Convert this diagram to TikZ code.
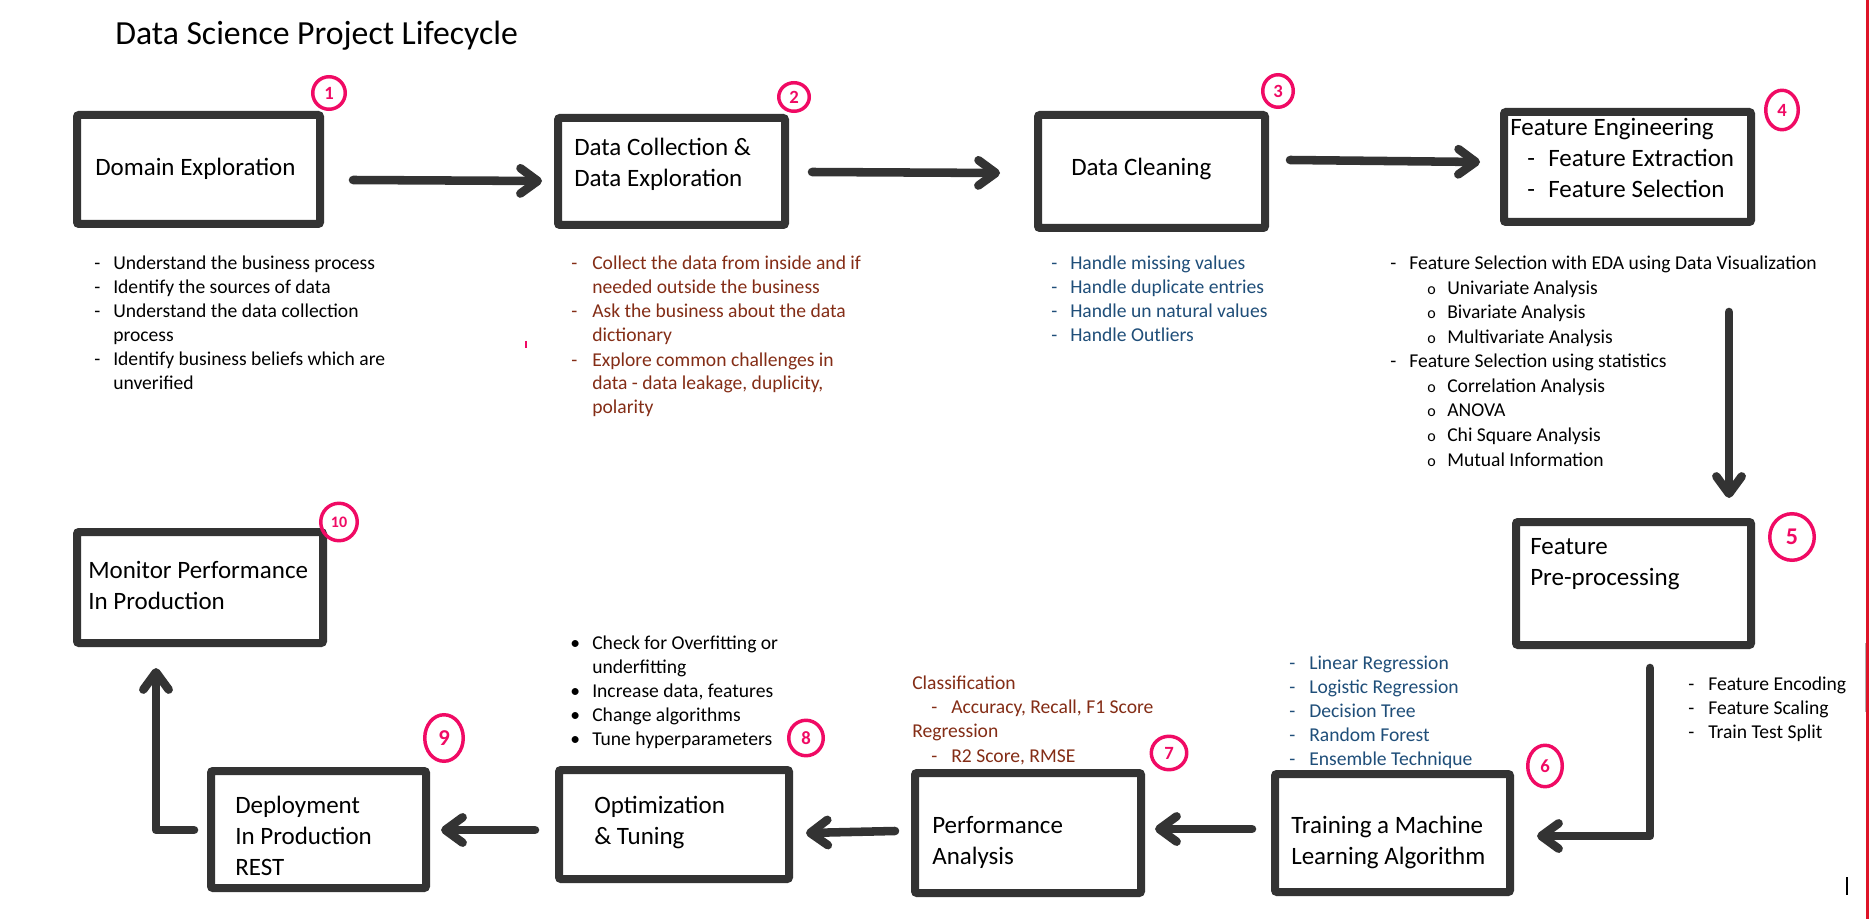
\documentclass[tikz,border=0pt]{standalone}
\usepackage{fontspec}
\setmainfont{Carlito}
\usetikzlibrary{arrows.meta,calc,shapes.geometric}
\newdimen\pxu \pxu=0.75pt
\newcommand\lead[2]{\makebox[#1\pxu][l]{#2}}
\newcommand\ind[1]{\hspace*{#1\pxu}}
\newcommand\ringbul{{\fontsize{12pt}{12pt}\selectfont o}}
\definecolor{boxgray}{RGB}{51,51,51}
\definecolor{badgepink}{RGB}{240,10,100}
\definecolor{listred}{RGB}{132,45,22}
\definecolor{listblue}{RGB}{31,78,121}
\definecolor{edgered}{RGB}{222,20,40}
\tikzset{
  stepbox/.style={draw=boxgray, line width=6pt, rounded corners=1.5pt, rectangle, inner sep=0pt, fill=white},
  flow/.style={draw=boxgray, line width=6.4pt, line cap=round, line join=round,
     -{Straight Barb[round, length=13pt, width=19pt]}},
  badge/.style={draw=badgepink, line width=2.6pt, ellipse, inner sep=0pt, text=badgepink,
     font=\fontsize{14pt}{14pt}\selectfont\bfseries},
  boxtxt/.style={anchor=base west, inner sep=0pt, align=left, font=\fontsize{18.75pt}{23.25pt}\selectfont},
  listtxt/.style={anchor=base west, inner sep=0pt, align=left, font=\fontsize{14.7pt}{18pt}\selectfont},
}
\begin{document}
\begin{tikzpicture}[x=\pxu, y=-\pxu]
\useasboundingbox (0,0) rectangle (1869,919);
\fill[white] (0,0) rectangle (1869,919);

% title
\node[anchor=base west, inner sep=0pt, font=\fontsize{25.3pt}{30pt}\selectfont] (title) at (115,45) {Data Science Project Lifecycle};

% boxes
\node[stepbox, minimum width=182.25pt, minimum height=81.75pt] (b1) at (198.5,169.5) {};
\node[stepbox, minimum width=170.25pt, minimum height=80.25pt] (b2) at (671.5,171.5) {};
\node[stepbox, minimum width=170.25pt, minimum height=84.75pt] (b3) at (1151.5,171.5) {};
\node[stepbox, minimum width=185.25pt, minimum height=82.5pt] (b4) at (1627.5,167) {};
\node[stepbox, minimum width=176.25pt, minimum height=92.25pt] (b5) at (1633.5,583.5) {};
\node[stepbox, minimum width=176.25pt, minimum height=88.5pt] (b6) at (1392.5,833) {};
\node[stepbox, minimum width=169.5pt, minimum height=90pt] (b7) at (1028,833) {};
\node[stepbox, minimum width=172.5pt, minimum height=81.75pt] (b8) at (674,824.5) {};
\node[stepbox, minimum width=161.25pt, minimum height=87.75pt] (b9) at (318.5,829.5) {};
\node[stepbox, minimum width=184.5pt, minimum height=83.25pt] (b10) at (200,587.5) {};

% box texts (anchor = baseline of the last line)
\node[boxtxt] (t1) at (95,176) {Domain Exploration};
\node[boxtxt] (t2) at (574,187) {Data Collection \&\\Data Exploration};
\node[boxtxt] (t3) at (1071,176) {Data Cleaning};
\node[boxtxt] (t4) at (1510,198) {Feature Engineering\\\ind{17}\lead{21}{-}Feature Extraction\\\ind{17}\lead{21}{-}Feature Selection};
\node[boxtxt] (t5) at (1530,585) {Feature\\Pre-processing};
\node[boxtxt] (t6) at (1291,864) {Training a Machine\\Learning Algorithm};
\node[boxtxt] (t7) at (932,864) {Performance\\Analysis};
\node[boxtxt] (t8) at (594,844) {Optimization\\\& Tuning};
\node[boxtxt] (t9) at (235,875) {Deployment\\In Production\\REST};
\node[boxtxt] (t10) at (88,609) {Monitor Performance\\In Production};

% badges
\node[badge, minimum width=24.4pt, minimum height=24.4pt] (n1) at (329,93) {1};
\node[badge, minimum width=22.9pt, minimum height=21.4pt] (n2) at (794,97) {2};
\node[badge, minimum width=22.9pt, minimum height=24.4pt] (n3) at (1278,91) {3};
\node[badge, minimum width=24.4pt, minimum height=29.6pt] (n4) at (1782,110) {4};
\node[badge, minimum width=33.4pt, minimum height=34.9pt, font=\fontsize{18pt}{18pt}\selectfont\bfseries] (n5) at (1792,537) {5};
\node[badge, minimum width=25.9pt, minimum height=31.1pt] (n6) at (1545,766) {6};
\node[badge, minimum width=26.6pt, minimum height=25.1pt] (n7) at (1169,753) {7};
\node[badge, minimum width=25.9pt, minimum height=26.6pt] (n8) at (806,738) {8};
\node[badge, minimum width=28.9pt, minimum height=34.9pt, font=\fontsize{17pt}{17pt}\selectfont\bfseries] (n9) at (444,738) {9};
\node[badge, minimum width=27.4pt, minimum height=28.1pt, font=\fontsize{12pt}{12pt}\selectfont\bfseries] (n10) at (339,522) {10};

% lists (anchor = baseline of the last line)
\node[listtxt] (l1) at (94,390) {\lead{19}{-}Understand the business process\\
\lead{19}{-}Identify the sources of data\\
\lead{19}{-}Understand the data collection\\
\ind{19}process\\
\lead{19}{-}Identify business beliefs which are\\
\ind{19}unverified};

\node[listtxt, text=listred] (l2) at (571,414) {\lead{21}{-}Collect the data from inside and if\\
\ind{21}needed outside the business\\
\lead{21}{-}Ask the business about the data\\
\ind{21}dictionary\\
\lead{21}{-}Explore common challenges in\\
\ind{21}data - data leakage, duplicity,\\
\ind{21}polarity};

\node[listtxt, text=listblue] (l3) at (1051,342) {\lead{19}{-}Handle missing values\\
\lead{19}{-}Handle duplicate entries\\
\lead{19}{-}Handle un natural values\\
\lead{19}{-}Handle Outliers};

\node[listtxt, font=\fontsize{14.7pt}{18.4pt}\selectfont] (l4) at (1390,466) {\lead{19}{-}Feature Selection with EDA using Data Visualization\\
\ind{37}\lead{20}{\ringbul}Univariate Analysis\\
\ind{37}\lead{20}{\ringbul}Bivariate Analysis\\
\ind{37}\lead{20}{\ringbul}Multivariate Analysis\\
\lead{19}{-}Feature Selection using statistics\\
\ind{37}\lead{20}{\ringbul}Correlation Analysis\\
\ind{37}\lead{20}{\ringbul}ANOVA\\
\ind{37}\lead{20}{\ringbul}Chi Square Analysis\\
\ind{37}\lead{20}{\ringbul}Mutual Information};

\node[listtxt] (l5) at (1688,738) {\lead{20}{-}Feature Encoding\\
\lead{20}{-}Feature Scaling\\
\lead{20}{-}Train Test Split};

\node[listtxt, text=listblue] (l6) at (1289,765) {\lead{20}{-}Linear Regression\\
\lead{20}{-}Logistic Regression\\
\lead{20}{-}Decision Tree\\
\lead{20}{-}Random Forest\\
\lead{20}{-}Ensemble Technique};

\node[listtxt, text=listred, font=\fontsize{14.7pt}{18.2pt}\selectfont] (l7) at (912,762) {Classification\\
\ind{19}\lead{20}{-}Accuracy, Recall, F1 Score\\
Regression\\
\ind{19}\lead{20}{-}R2 Score, RMSE};

\node[listtxt] (l8) at (570,745) {\lead{22}{\textbullet}Check for Overfitting or\\
\ind{22}underfitting\\
\lead{22}{\textbullet}Increase data, features\\
\lead{22}{\textbullet}Change algorithms\\
\lead{22}{\textbullet}Tune hyperparameters};

% connectors
\draw[flow] ($(b1.east)+(29,10.5)$) -- ($(b2.west)+(-12,9.5)$);
\draw[flow] ($(b2.east)+(23,0.5)$) -- ($(b3.west)+(-34,1.5)$);
\draw[flow] ($(b3.east)+(21,-11.5)$) -- ($(b4.west)+(-20,-5)$);
\draw[flow] ($(b4.south)+(101.5,86)$) -- ($(b5.north)+(95.5,-20)$);
\draw[flow] ($(b5.south)+(16.5,19)$) |- ($(b6.east)+(23,3)$);
\draw[flow] ($(b6.west)+(-19,-4)$) -- ($(b7.east)+(10,-4)$);
\draw[flow] ($(b7.west)+(-16,-2)$) -- ($(b8.east)+(13,8.5)$);
\draw[flow] ($(b8.west)+(-20,5.5)$) -- ($(b9.east)+(11,0.5)$);
\draw[flow] ($(b9.west)+(-13,0.5)$) -| ($(b10.south)+(-44,21)$);

% marks
\draw[badgepink, line width=1.2pt] (526,341) -- (526,348);
\draw[edgered, line width=2.25pt] (1867.5,0) -- (1867.5,919);
\draw[gray!60, line width=0.9pt] (1865.3,643) -- (1865.3,712);
\draw[black, line width=0.8pt] (1847,877) -- (1847,895);
\end{tikzpicture}
\end{document}
